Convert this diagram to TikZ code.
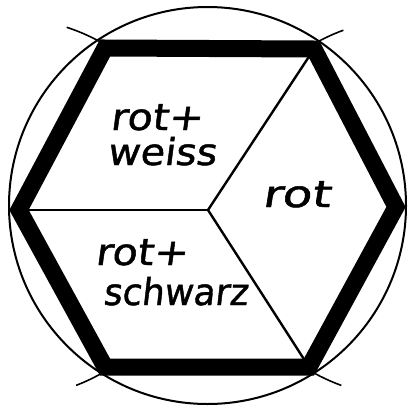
\documentclass[tikz,border=0pt]{standalone}
\usepackage{fontspec}
\usepackage{graphicx}
\newfontfamily\handfont[FakeSlant=0.12,FakeBold=1.2]{DejaVu Sans}
\newcommand\hwtext[2]{\scalebox{#1}[1]{\handfont\fontsize{37}{40}\selectfont #2}}
\tikzset{
  thinline/.style={line width=2pt},
  hexline/.style={line width=17pt, line join=miter},
  ticks/.style={line width=1.6pt},
  lab/.style={anchor=base west, inner sep=0pt, outer sep=0pt}
}
\begin{document}
\begin{tikzpicture}[x=1pt,y=-1pt]
\useasboundingbox (0,0) rectangle (409,407);
% circle
\draw[thinline] (207.5,205.5) circle (198.5);
% construction ticks
\draw[ticks] (8,208) ++(-57:190) arc (-57:-72:190);
\draw[ticks] (8,208) ++(57:190) arc (57:69:190);
\draw[ticks] (407,205) ++(-110:186) arc (-110:-123:186);
\draw[ticks] (407,205) ++(110:192) arc (110:124:192);
% hexagon vertices
\coordinate (TL) at (105,48);
\coordinate (TR) at (314,49);
\coordinate (R) at (396,207);
\coordinate (BR) at (309,367);
\coordinate (BL) at (105,367);
\coordinate (L) at (19,210);
\coordinate (C) at (208,210);
% inner lines
\draw[line width=2.4pt] (C) -- (TR);
\draw[line width=2.4pt] (C) -- (L);
\draw[line width=2.4pt] (C) -- (BR);
% hexagon
\draw[hexline] (TL) -- (TR) -- (R) -- (BR) -- (BL) -- (L) -- cycle;
% labels
\node[lab] (l1) at (110,130) {\hwtext{1.12}{rot+}};
\node[lab] (l2) at (107,165) {\hwtext{1.07}{weiss}};
\node[lab] (l3) at (262,207) {\hwtext{1.32}{rot}};
\node[lab] (l4) at (95,265) {\hwtext{1.12}{rot+}};
\node[lab] (l5) at (103,305) {\hwtext{0.96}{schwarz}};
\end{tikzpicture}
\end{document}
